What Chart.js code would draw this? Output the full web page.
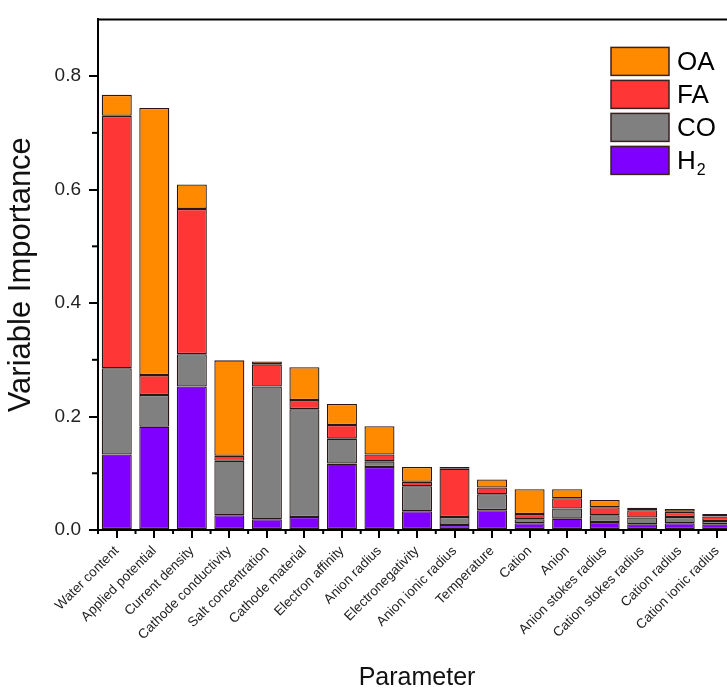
<!DOCTYPE html>
<html>
<head>
<meta charset="utf-8">
<script src="https://cdn.jsdelivr.net/npm/chart.js@4.4.0/dist/chart.umd.min.js"></script>
<style>
  html, body { margin: 0; padding: 0; background: #fff; overflow: hidden; }
  #wrap { width: 736px; height: 693px; position: relative; }
</style>
</head>
<body>
<div id="wrap"><canvas id="bar-chart"></canvas></div>
<script>
const parameterLabels = ['Water content', 'Applied potential', 'Current density', 'Cathode conductivity',
    'Salt concentration', 'Cathode material', 'Electron affinity', 'Anion radius', 'Electronegativity',
    'Anion ionic radius', 'Temperature', 'Cation', 'Anion', 'Anion stokes radius', 'Cation stokes radius',
    'Cation radius', 'Cation ionic radius']
const h2Values = [0.133, 0.182, 0.253, 0.026, 0.019, 0.023, 0.117, 0.111, 0.033, 0.009, 0.035, 0.012, 0.020, 0.014, 0.010, 0.012, 0.010]
const coValues = [0.152, 0.056, 0.057, 0.096, 0.234, 0.190, 0.044, 0.010, 0.044, 0.014, 0.028, 0.007, 0.018, 0.012, 0.012, 0.011, 0.006]
const faValues = [0.445, 0.035, 0.256, 0.009, 0.039, 0.016, 0.024, 0.012, 0.008, 0.085, 0.012, 0.009, 0.018, 0.014, 0.013, 0.009, 0.008]
const oaValues = [0.037, 0.471, 0.043, 0.168, 0.005, 0.058, 0.037, 0.050, 0.026, 0.003, 0.014, 0.044, 0.016, 0.013, 0.004, 0.005, 0.004]
const yTicks = [0, 0.2, 0.4, 0.6, 0.8]
const yMinorTicks = [0.1, 0.3, 0.5, 0.7]

const fontFamily = "'Liberation Sans', Arial, sans-serif"

function barSet(label, values, color) {
    return {
        label: label,
        data: values,
        backgroundColor: color,
        borderColor: '#2a1818',
        borderWidth: 1.3,
        borderSkipped: false,
        barPercentage: 0.8,
        categoryPercentage: 1.0
    }
}

// minor ticks, top frame and the legend box
const decorations = {
    id: 'decorations',
    afterDraw(chart) {
        const ctx = chart.ctx
        const area = chart.chartArea
        const x = chart.scales.x
        const y = chart.scales.y
        ctx.save()
        ctx.strokeStyle = '#000'
        ctx.lineWidth = 2
        ctx.beginPath()
        ctx.moveTo(area.left - 1, area.top)
        ctx.lineTo(area.right, area.top)
        ctx.lineTo(area.right, area.bottom)
        ctx.stroke()
        yMinorTicks.forEach(v => {
            const py = y.getPixelForValue(v)
            ctx.beginPath()
            ctx.moveTo(area.left - 6, py)
            ctx.lineTo(area.left, py)
            ctx.stroke()
        })
        for (let i = 0; i <= parameterLabels.length; i++) {
            const px = x.getPixelForValue(i - 0.5)
            ctx.beginPath()
            ctx.moveTo(px, area.bottom)
            ctx.lineTo(px, area.bottom + 4)
            ctx.stroke()
        }

        // legend, top series first
        const sets = chart.data.datasets.slice().reverse()
        const lx = area.right - 125
        let ly = area.top + 28
        sets.forEach(ds => {
            ctx.fillStyle = ds.backgroundColor
            ctx.fillRect(lx, ly, 58, 28)
            ctx.strokeStyle = '#3a2020'
            ctx.lineWidth = 1.5
            ctx.strokeRect(lx, ly, 58, 28)
            ctx.fillStyle = '#000'
            ctx.textBaseline = 'middle'
            ctx.textAlign = 'left'
            ctx.font = '26px ' + fontFamily
            const m = ds.label.match(/^([A-Za-z]+)(\d*)$/)
            ctx.fillText(m[1], lx + 66, ly + 15)
            if (m[2]) {
                const w = ctx.measureText(m[1]).width
                ctx.font = '16px ' + fontFamily
                ctx.fillText(m[2], lx + 67 + w, ly + 24)
            }
            ly += 33
        })
        ctx.restore()
    }
}

new Chart(document.getElementById('bar-chart'), {
    type: 'bar',
    data: {
        labels: parameterLabels,
        datasets: [
            barSet('H2', h2Values, '#7f00ff'),
            barSet('CO', coValues, '#808080'),
            barSet('FA', faValues, '#ff3636'),
            barSet('OA', oaValues, '#ff8a00')
        ]
    },
    options: {
        responsive: true,
        maintainAspectRatio: false,
        animation: false,
        layout: { padding: { top: 16, left: 0, right: 0, bottom: 0 } },
        plugins: {
            legend: { display: false },
            tooltip: { enabled: false }
        },
        scales: {
            x: {
                stacked: true,
                afterFit: scale => { scale.height = 163 },
                border: { display: true, color: '#000', width: 2 },
                grid: { offset: false, drawOnChartArea: false, drawTicks: true, tickLength: 8, color: '#000', lineWidth: 2 },
                ticks: {
                    autoSkip: false, minRotation: 45, maxRotation: 45, padding: 5,
                    color: '#222', font: { family: fontFamily, size: 13.5 }
                },
                title: {
                    display: true, text: 'Parameter', color: '#111',
                    font: { family: fontFamily, size: 25 }, padding: { top: 0, bottom: 0 }
                }
            },
            y: {
                stacked: true,
                min: 0,
                max: 0.9,
                afterFit: scale => { scale.width = 98 },
                afterBuildTicks: scale => { scale.ticks = yTicks.map(v => ({ value: v })) },
                border: { display: true, color: '#000', width: 2 },
                grid: { drawOnChartArea: false, drawTicks: true, tickLength: 9, color: '#000', lineWidth: 2 },
                ticks: {
                    padding: 8, color: '#222',
                    font: { family: fontFamily, size: 19 },
                    callback: v => v.toFixed(1)
                },
                title: {
                    display: true, text: 'Variable Importance', color: '#111',
                    font: { family: fontFamily, size: 31 }, padding: { top: 3, bottom: 0 }
                }
            }
        }
    },
    plugins: [decorations]
});
</script>
</body>
</html>
